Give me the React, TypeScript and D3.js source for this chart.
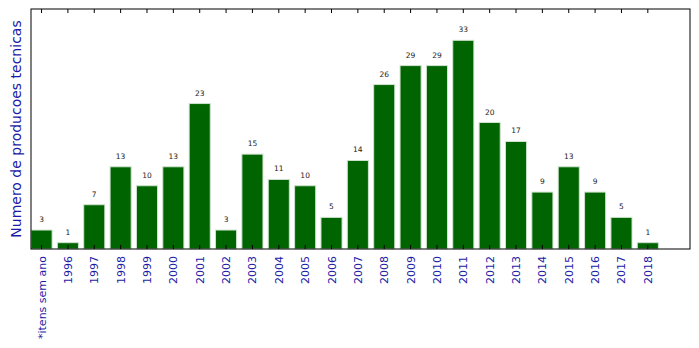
import React from "react";
import * as d3 from "d3";

const categories = ["*itens sem ano","1996","1997","1998","1999","2000","2001","2002","2003","2004","2005","2006","2007","2008","2009","2010","2011","2012","2013","2014","2015","2016","2017","2018"];
const values = [3,1,7,13,10,13,23,3,15,11,10,5,14,26,29,29,33,20,17,9,13,9,5,1];

const W = 699, H = 348;
const left = 31, right = 690, top = 9, bottom = 249;

export default function App() {
  const x = d3.scaleLinear().domain([-0.4, categories.length + 0.6]).range([left, right]);
  const yMax = d3.max(values)! * 1.15;
  const y = d3.scaleLinear().domain([0, yMax]).range([bottom, top]);
  const bw = x(0.8) - x(0);
  const fontFamily = "DejaVu Sans, sans-serif";
  return (
    <svg width={W} height={H} style={{ position: "absolute", left: 0, top: 0 }} fontFamily={fontFamily}>
      <rect x={0} y={0} width={W} height={H} fill="white" />
      {values.map((v, i) => (
        <g key={i}>
          <rect x={x(i - 0.4)} y={y(v)} width={bw} height={y(0) - y(v)} fill="#006400" stroke="#cfe3cf" strokeWidth={1} />
          <text x={x(i)} y={y(v) - 8} fontSize={7.5} fill="#222" textAnchor="middle">{v}</text>
        </g>
      ))}
      {categories.map((c, i) => (
        <g key={c}>
          <line x1={x(i)} x2={x(i)} y1={bottom} y2={bottom - 4} stroke="black" />
          <line x1={x(i)} x2={x(i)} y1={top} y2={top + 4} stroke="black" />
          <text transform={`translate(${x(i) + 4},${bottom + 7}) rotate(-90)`} textAnchor="end" fontSize={11} fill="#1a1aa6">{c}</text>
        </g>
      ))}
      <rect x={left} y={top} width={right - left} height={bottom - top} fill="none" stroke="black" strokeWidth={1} />
      <text transform={`translate(21,${(top + bottom) / 2}) rotate(-90)`} textAnchor="middle" fontSize={14} fill="#1a1aa6">Numero de producoes tecnicas</text>
    </svg>
  );
}
